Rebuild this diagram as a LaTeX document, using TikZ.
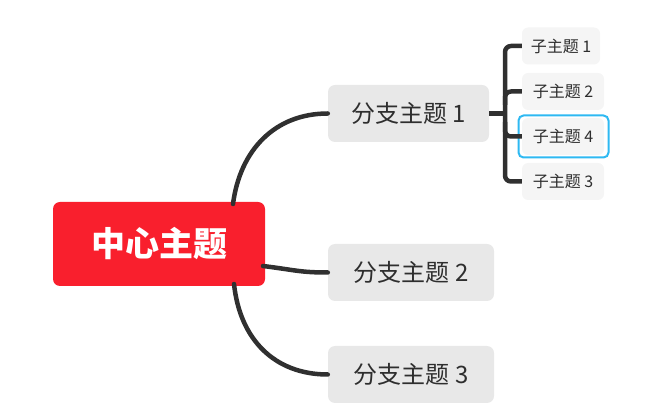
\documentclass[tikz,border=0pt]{standalone}
\usepackage{fontspec}
\setmainfont{Noto Sans CJK SC}
\newfontfamily\cjk{Noto Sans CJK SC}
\begin{document}
\begin{tikzpicture}[x=1pt,y=-1pt,
  central/.style={fill=cred, rounded corners=7pt, minimum width=212pt, minimum height=84pt, inner sep=0pt,
     text=white, font=\cjk\bfseries\fontsize{34}{34}\selectfont},
  branch/.style={fill=bgray, rounded corners=7pt, minimum height=57pt, inner sep=0pt,
     text=tgray, font=\cjk\fontsize{24}{24}\selectfont},
  sub/.style={fill=sgray, rounded corners=6pt, minimum height=37pt, inner sep=0pt,
     text=tgray, font=\cjk\fontsize{16}{16}\selectfont},
  conn/.style={draw=lgray, line width=4.5pt, line cap=round},
  brk/.style={draw=lgray, line width=4.5pt, rounded corners=6pt},
  sel/.style={draw=cblue, line width=2pt, rounded corners=5pt, minimum width=90pt, minimum height=42pt, inner sep=0pt}
]
\definecolor{cred}{HTML}{F91F2D}
\definecolor{bgray}{HTML}{E8E8E8}
\definecolor{sgray}{HTML}{F5F5F5}
\definecolor{tgray}{HTML}{2E2E2E}
\definecolor{lgray}{HTML}{303030}
\definecolor{cblue}{HTML}{2EB9F2}
\useasboundingbox (0,0) rectangle (672,411);

\node[central] (c) at (159,244) {中心主题};
\node[branch, minimum width=161pt] (b1) at (408.5,113.5) {分支主题 1};
\node[branch, minimum width=166pt] (b2) at (411,272.5) {分支主题 2};
\node[branch, minimum width=166pt] (b3) at (411,374.5) {分支主题 3};

\node[sub, minimum width=78pt] (s1) at (561,46) {子主题 1};
\node[sub, minimum width=82pt] (s2) at (563,91.5) {子主题 2};
\node[sub, minimum width=82pt] (s4) at (563,136.5) {子主题 4};
\node[sel] (s4sel) at (563.5,136.5) {};
\node[sub, minimum width=82pt] (s3) at (563,181.5) {子主题 3};

\coordinate (c1) at (233,204);
\coordinate (c2) at (263,266);
\coordinate (c3) at (234,284);
\draw[conn] (c1) .. controls (240,150) and (275,113.5) .. (b1.west);
\draw[conn] (c2) .. controls (295,270) and (300,272.5) .. (b2.west);
\draw[conn] (c3) .. controls (240,340) and (275,374.5) .. (b3.west);

\coordinate (j) at (505,113.5);
\draw[conn, line cap=butt] (b1.east) -- (j);
\draw[brk] (s1.west) -- (505,46) -- (505,181.5) -- (s3.west);
\draw[brk] (s2.west) -- (505,91.5) -- (505,105);
\draw[brk] (505,122) -- (505,136.5) -- (s4.west);
\end{tikzpicture}
\end{document}
